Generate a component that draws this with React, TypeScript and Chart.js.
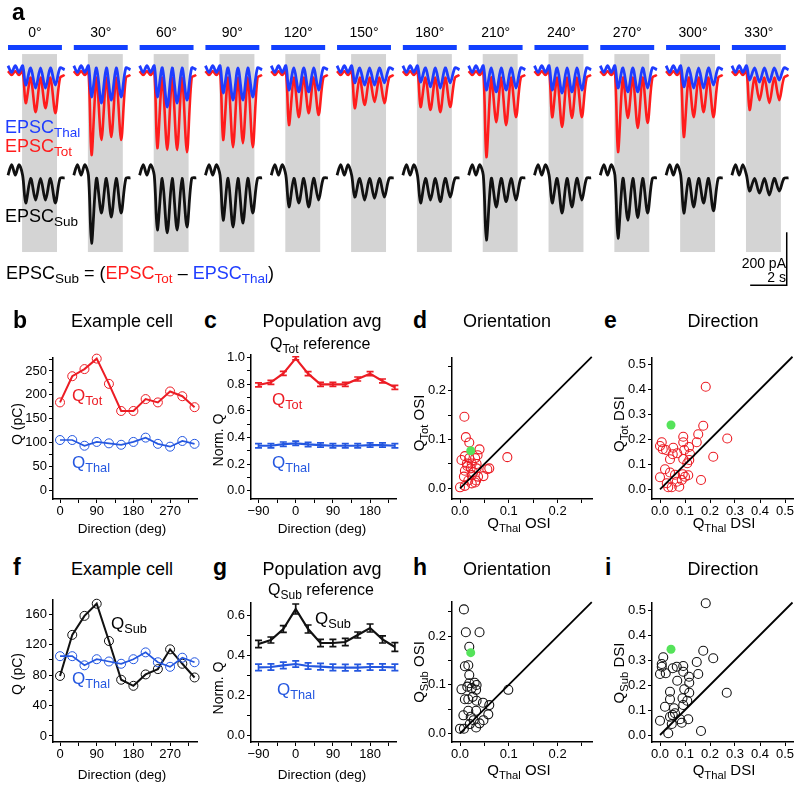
import React, { useEffect, useRef } from 'react';
import { Chart, registerables } from 'chart.js';

Chart.register(...registerables);

const FONT = '"Liberation Sans", Arial, Helvetica, sans-serif';
Chart.defaults.font.family = FONT;

const RED = '#ec1c24';
const BLUE = '#2457e0';
const TRACE_RED = '#ff1c1c';
const TRACE_BLUE = '#1f3dff';
const STIM_BLUE = '#1240ff';
const GRAY = '#d4d4d4';
const GREEN = '#55e35a';

// ================= DATA =================
// Panel a: stimulus directions and trough amplitudes (pA) of each EPSC cycle
const DIRECTIONS = [0, 30, 60, 90, 120, 150, 180, 210, 240, 270, 300, 330];
const THAL_TROUGHS = [
  [-68, -79, -79, -68],
  [-113, -136, -125, -113],
  [-113, -151, -136, -125],
  [-98, -125, -125, -113],
  [-87, -94, -94, -87],
  [-60, -68, -68, -60],
  [-57, -75, -79, -60],
  [-87, -94, -87, -79],
  [-87, -98, -94, -87],
  [-79, -94, -94, -79],
  [-75, -79, -79, -68],
  [-49, -57, -57, -49],
];
const TOT_TROUGHS = [
  [-136, -170, -155, -174],
  [-332, -275, -264, -275],
  [-306, -313, -313, -321],
  [-275, -302, -287, -302],
  [-219, -189, -174, -181],
  [-155, -143, -132, -136],
  [-151, -162, -170, -151],
  [-340, -208, -219, -189],
  [-189, -226, -192, -189],
  [-321, -192, -230, -211],
  [-264, -189, -170, -189],
  [-162, -125, -136, -125],
];
const SUB_TROUGHS = [
  [-105, -94, -94, -105],
  [-257, -143, -158, -143],
  [-207, -218, -207, -196],
  [-170, -196, -181, -143],
  [-120, -105, -120, -94],
  [-83, -94, -87, -83],
  [-105, -94, -100, -83],
  [-245, -120, -100, -94],
  [-105, -143, -120, -94],
  [-238, -170, -160, -143],
  [-143, -120, -105, -135],
  [-60, -68, -75, -60],
];
// sample times (s, from sweep start) and resting / inter-cycle levels (pA)
const TRACE_T = [0, 0.2, 0.4, 0.6, 0.8, 0.97, 1.24, 1.51, 1.78, 2.05, 2.32, 2.59, 2.85, 3.1];
const THAL_LEVELS = { rest: 5, pre: -20, peak: -3, post: -10 };
const TOT_LEVELS = { rest: -15, pre: -30, peak: -40, post: -30 };
const SUB_LEVELS = { rest: 0, pre: 40, peak: -12, post: -10 };
const SCALE_BAR_PA = 200;
const SCALE_BAR_S = 2;

// Panels b & f: example cell
const CELL_DIR = [0, 30, 60, 90, 120, 150, 180, 210, 240, 270, 300, 330];
const CELL_TOT_Q = [184, 239, 254, 276, 223, 166, 166, 191, 184, 207, 197, 174];
const CELL_THAL_Q = [105, 105, 93, 101, 98, 95, 101, 110, 97, 91, 103, 97];
const CELL_SUB_Q = [79, 133, 158, 174, 125, 74, 66, 81, 88, 114, 95, 77];

// Panels c & g: population average
const POP_DIR = [-90, -60, -30, 0, 30, 60, 90, 120, 150, 180, 210, 240];
const POP_TOT = [0.795, 0.815, 0.882, 0.995, 0.88, 0.8, 0.8, 0.8, 0.84, 0.88, 0.825, 0.777];
const POP_TOT_SEM = [0.015, 0.015, 0.015, 0.012, 0.015, 0.015, 0.015, 0.015, 0.015, 0.015, 0.015, 0.015];
const POP_THAL_C = [0.338, 0.338, 0.35, 0.356, 0.348, 0.343, 0.338, 0.338, 0.338, 0.343, 0.343, 0.338];
const POP_THAL_C_SEM = [0.016, 0.016, 0.016, 0.016, 0.016, 0.016, 0.016, 0.016, 0.016, 0.016, 0.016, 0.016];
const POP_SUB = [0.455, 0.475, 0.53, 0.63, 0.53, 0.46, 0.46, 0.465, 0.5, 0.535, 0.478, 0.44];
const POP_SUB_SEM = [0.018, 0.015, 0.017, 0.025, 0.02, 0.018, 0.018, 0.018, 0.015, 0.02, 0.018, 0.022];
const POP_THAL_G = [0.338, 0.34, 0.348, 0.355, 0.345, 0.342, 0.338, 0.337, 0.337, 0.34, 0.34, 0.338];
const POP_THAL_G_SEM = [0.016, 0.016, 0.016, 0.016, 0.016, 0.016, 0.016, 0.016, 0.016, 0.016, 0.016, 0.016];

// Panel d: OSI Thal vs Tot
const D_X = [0.009, 0.012, 0.019, 0.04, 0.01, 0.003, 0.019, 0.031, 0.036, 0.014, 0.024, 0.034, 0.01, 0.022, 0.034, 0.008, 0.024, 0.037, 0.048, 0.056, 0.06, 0.097, 0.0, 0.01, 0.024, 0.031, 0.017, 0.033, 0.015, 0.027];
const D_Y = [0.147, 0.105, 0.094, 0.08, 0.066, 0.058, 0.062, 0.062, 0.068, 0.051, 0.051, 0.05, 0.036, 0.041, 0.041, 0.024, 0.027, 0.024, 0.025, 0.039, 0.041, 0.064, 0.002, 0.005, 0.01, 0.012, 0.016, 0.016, 0.046, 0.033];
const D_EXAMPLE = [0.022, 0.077];
// Panel e: DSI Thal vs Tot
const E_X = [0.183, 0.173, 0.153, 0.269, 0.093, 0.147, 0.093, 0.007, 0.0, 0.011, 0.024, 0.053, 0.116, 0.097, 0.069, 0.12, 0.051, 0.093, 0.04, 0.117, 0.213, 0.109, 0.02, 0.04, 0.06, 0.091, 0.113, 0.0, 0.087, 0.164, 0.067, 0.033, 0.047, 0.077, 0.027, 0.1];
const E_Y = [0.41, 0.254, 0.22, 0.203, 0.21, 0.188, 0.188, 0.188, 0.173, 0.16, 0.157, 0.166, 0.169, 0.157, 0.144, 0.141, 0.14, 0.121, 0.12, 0.117, 0.13, 0.104, 0.08, 0.067, 0.058, 0.06, 0.056, 0.048, 0.037, 0.037, 0.03, 0.008, 0.008, 0.01, 0.024, 0.05];
const E_EXAMPLE = [0.044, 0.257];
// Panel h: OSI Thal vs Sub
const H_X = [0.008, 0.012, 0.04, 0.019, 0.01, 0.017, 0.019, 0.019, 0.03, 0.034, 0.003, 0.015, 0.024, 0.033, 0.099, 0.01, 0.017, 0.026, 0.034, 0.047, 0.06, 0.017, 0.033, 0.007, 0.022, 0.058, 0.048, 0.028, 0.0, 0.008, 0.033, 0.02, 0.04];
const H_Y = [0.255, 0.208, 0.208, 0.178, 0.138, 0.14, 0.12, 0.103, 0.104, 0.0995, 0.0905, 0.096, 0.093, 0.0895, 0.0895, 0.07, 0.07, 0.075, 0.067, 0.063, 0.058, 0.0465, 0.0465, 0.037, 0.034, 0.039, 0.027, 0.027, 0.0095, 0.0095, 0.012, 0.019, 0.0205];
const H_EXAMPLE = [0.022, 0.166];
// Panel i: DSI Thal vs Sub
const I_X = [0.183, 0.173, 0.213, 0.013, 0.007, 0.007, 0.147, 0.093, 0.067, 0.051, 0.0, 0.023, 0.093, 0.153, 0.116, 0.069, 0.117, 0.097, 0.117, 0.04, 0.04, 0.267, 0.09, 0.109, 0.093, 0.02, 0.056, 0.06, 0.04, 0.08, 0.113, 0.0, 0.087, 0.047, 0.033, 0.164, 0.051];
const I_Y = [0.527, 0.337, 0.307, 0.311, 0.284, 0.273, 0.292, 0.276, 0.273, 0.267, 0.244, 0.247, 0.253, 0.244, 0.233, 0.217, 0.209, 0.183, 0.169, 0.173, 0.143, 0.169, 0.147, 0.137, 0.12, 0.113, 0.107, 0.087, 0.073, 0.063, 0.063, 0.057, 0.049, 0.044, 0.007, 0.016, 0.08];
const I_EXAMPLE = [0.044, 0.343];

// Unity lines
const OSI_UNITY = [0, 0.27];
const DSI_UNITY = [0, 0.53];

// Tick values and labels
const CELL_X_TICKS = [0, 45, 90, 135, 180, 225, 270, 315];
const CELL_X_LABELS = [0, 90, 180, 270];
const POP_X_TICKS = [-90, -45, 0, 45, 90, 135, 180, 225];
const POP_X_LABELS = [-90, 0, 90, 180];
const B_Y_TICKS = [0, 25, 50, 75, 100, 125, 150, 175, 200, 225, 250, 275];
const B_Y_LABELS = [0, 50, 100, 150, 200, 250];
const C_Y_TICKS = [0, 0.1, 0.2, 0.3, 0.4, 0.5, 0.6, 0.7, 0.8, 0.9, 1.0];
const C_Y_LABELS = [0, 0.2, 0.4, 0.6, 0.8, 1.0];
const F_Y_TICKS = [0, 20, 40, 60, 80, 100, 120, 140, 160];
const F_Y_LABELS = [0, 40, 80, 120, 160];
const G_Y_TICKS = [0, 0.1, 0.2, 0.3, 0.4, 0.5, 0.6];
const G_Y_LABELS = [0, 0.2, 0.4, 0.6];
const OSI_TICKS = [0, 0.05, 0.1, 0.15, 0.2, 0.25];
const OSI_LABELS = [0, 0.1, 0.2];
const DSI_TICKS = [0, 0.1, 0.2, 0.3, 0.4, 0.5];
const DSI_LABELS = [0, 0.1, 0.2, 0.3, 0.4, 0.5];

// ================= PANEL a LAYOUT =================
const SEG_PITCH = 3.6; // s between sweeps
const STIM_BAR = [0, 2.95];
const GRAY_WIN = [0.77, 2.68];
const A_PX_PER_S = 18.28;
const A_XMIN = -8 / A_PX_PER_S;
const A_XMAX = A_XMIN + 800 / A_PX_PER_S;
const A_YMAX = 253;
const A_YMIN = -879;
const SUB_OFFSET = -408;
const STIM_Y = 73.8;
const GRAY_TOP = 49;
const GRAY_BOTTOM = -698;
const SB_X = 42.6;
const SB_Y = -823;
const aPx = (t: number) => (t - A_XMIN) * A_PX_PER_S;

function buildTrace(troughs: number[][], lv: any, offset: number) {
  const pts: any[] = [];
  troughs.forEach((tr, i) => {
    const t0 = i * SEG_PITCH;
    const vals = [lv.rest, lv.pre, lv.rest, lv.pre, lv.rest, tr[0], lv.peak, tr[1], lv.peak, tr[2], lv.peak, tr[3], lv.peak, lv.post];
    TRACE_T.forEach((t, k) => pts.push({ x: t0 + t, y: vals[k] + offset }));
    pts.push({ x: t0 + 3.3, y: null });
  });
  return pts;
}

const grayBoxPlugin = {
  id: 'grayBoxes',
  beforeDatasetsDraw(chart: any) {
    const { ctx } = chart;
    const xs = chart.scales.x;
    const ys = chart.scales.y;
    ctx.save();
    ctx.fillStyle = GRAY;
    DIRECTIONS.forEach((_, i) => {
      const x0 = xs.getPixelForValue(i * SEG_PITCH + GRAY_WIN[0]);
      const x1 = xs.getPixelForValue(i * SEG_PITCH + GRAY_WIN[1]);
      const y0 = ys.getPixelForValue(GRAY_TOP);
      const y1 = ys.getPixelForValue(GRAY_BOTTOM);
      ctx.fillRect(x0, y0, x1 - x0, y1 - y0);
    });
    ctx.restore();
  },
};

function TracesPanel() {
  const ref = useRef<HTMLCanvasElement>(null);
  useEffect(() => {
    const stim: any[] = [];
    DIRECTIONS.forEach((_, i) => {
      stim.push({ x: i * SEG_PITCH + STIM_BAR[0], y: STIM_Y });
      stim.push({ x: i * SEG_PITCH + STIM_BAR[1], y: STIM_Y });
      stim.push({ x: i * SEG_PITCH + STIM_BAR[1] + 0.1, y: null });
    });
    const sbar = [
      { x: SB_X - SCALE_BAR_S, y: SB_Y },
      { x: SB_X, y: SB_Y },
      { x: SB_X, y: SB_Y + SCALE_BAR_PA },
    ];
    const chart = new Chart(ref.current as HTMLCanvasElement, {
      type: 'line',
      data: {
        datasets: [
          { data: buildTrace(THAL_TROUGHS, THAL_LEVELS, 0), borderColor: TRACE_BLUE, borderWidth: 2.8, pointRadius: 0, tension: 0.3, order: 2 } as any,
          { data: buildTrace(TOT_TROUGHS, TOT_LEVELS, 0), borderColor: TRACE_RED, borderWidth: 2.6, pointRadius: 0, tension: 0.3, order: 3 },
          { data: buildTrace(SUB_TROUGHS, SUB_LEVELS, SUB_OFFSET), borderColor: '#111', borderWidth: 2.8, pointRadius: 0, tension: 0.3, order: 2 },
          { data: stim, borderColor: STIM_BLUE, borderWidth: 5, pointRadius: 0, borderCapStyle: 'butt', order: 1 },
          { data: sbar, borderColor: '#000', borderWidth: 1.5, pointRadius: 0, order: 1 },
        ],
      },
      options: {
        responsive: false,
        animation: false,
        events: [],
        spanGaps: false,
        layout: { padding: 0 },
        plugins: { legend: { display: false }, tooltip: { enabled: false } },
        scales: {
          x: { type: 'linear', display: false, min: A_XMIN, max: A_XMAX },
          y: { type: 'linear', display: false, min: A_YMIN, max: A_YMAX },
        },
      } as any,
      plugins: [grayBoxPlugin],
    });
    return () => chart.destroy();
  }, []);
  return <canvas ref={ref} width={800} height={300} style={{ position: 'absolute', left: 0, top: 0, width: 800, height: 300 }} />;
}

// ================= LOWER PANELS =================
const YW = 40, PADL = 4, PADT = 14, PADR = 16, XH = 24, PADB = 2;

const errorBarPlugin = {
  id: 'errbars',
  afterDatasetsDraw(chart: any) {
    const { ctx } = chart;
    const xs = chart.scales.x;
    const ys = chart.scales.y;
    chart.data.datasets.forEach((ds: any) => {
      if (!ds.errorBars) return;
      ctx.save();
      ctx.strokeStyle = ds.borderColor;
      ctx.lineWidth = 1.7;
      ds.data.forEach((p: any, i: number) => {
        const e = ds.errorBars[i];
        const px = xs.getPixelForValue(p.x);
        const y1 = ys.getPixelForValue(p.y - e);
        const y2 = ys.getPixelForValue(p.y + e);
        ctx.beginPath();
        ctx.moveTo(px, y1); ctx.lineTo(px, y2);
        ctx.moveTo(px - 3.5, y1); ctx.lineTo(px + 3.5, y1);
        ctx.moveTo(px - 3.5, y2); ctx.lineTo(px + 3.5, y2);
        ctx.stroke();
      });
      ctx.restore();
    });
  },
};

const fmtDeg = (v: number) => (v < 0 ? '\u2212' + Math.abs(v) : String(v));
const fmtInt = (v: number) => String(Math.round(v));
const fmt1 = (v: number) => v.toFixed(1);

function axis(min: number, max: number, ticks: number[], labels: number[], fmt: (v: number) => string, horizontal: boolean) {
  return {
    type: 'linear',
    min,
    max,
    afterBuildTicks: (s: any) => { s.ticks = ticks.map((v) => ({ value: v })); },
    afterFit: (s: any) => { if (horizontal) s.height = XH; else s.width = YW; },
    ticks: {
      autoSkip: false,
      maxRotation: 0,
      minRotation: 0,
      padding: horizontal ? 1 : 2,
      color: '#000',
      font: { family: FONT, size: 13 },
      callback: (v: any) => (labels.some((l) => Math.abs(l - v) < 1e-9) ? fmt(v) : ''),
    },
    grid: { display: true, drawOnChartArea: false, drawTicks: true, tickLength: 4, color: '#000', lineWidth: 1 },
    border: { display: true, color: '#000', width: 1.5 },
  };
}

const pts = (xs: number[], ys: number[]) => xs.map((x, i) => ({ x, y: ys[i] }));

const cellLine = (ys: number[], color: string, w: number) => ({
  data: pts(CELL_DIR, ys), showLine: true, borderColor: color, borderWidth: w,
  pointRadius: 4.5, pointBorderWidth: 1, pointBorderColor: color, pointBackgroundColor: 'rgba(0,0,0,0)', clip: false,
});
const popLine = (ys: number[], sem: number[], color: string) => ({
  data: pts(POP_DIR, ys), showLine: true, borderColor: color, borderWidth: 2.2, pointRadius: 0, errorBars: sem, clip: false,
});
const scatterSets = (xs: number[], ys: number[], ex: number[], unity: number[], color: string) => [
  { data: pts(xs, ys), pointRadius: 4.5, pointBorderWidth: 1.1, pointBorderColor: color, pointBackgroundColor: 'rgba(0,0,0,0)', order: 3, clip: false },
  { data: [{ x: unity[0], y: unity[0] }, { x: unity[1], y: unity[1] }], showLine: true, borderColor: '#000', borderWidth: 1.8, pointRadius: 0, order: 2, clip: false },
  { data: [{ x: ex[0], y: ex[1] }], pointRadius: 4.5, pointBorderWidth: 0, pointBackgroundColor: GREEN, pointBorderColor: GREEN, order: 1, clip: false },
];

const CELL_XR = [-17.2, 336];
const POP_XR = [-108.2, 242.7];
const OSI_XR = [-0.0164, 0.2705];
const DSI_XR = [-0.032, 0.532];

const PANELS: any[] = [
  { area: { L: 53, R: 197, T: 358, B: 499 }, x: [CELL_XR, CELL_X_TICKS, CELL_X_LABELS, fmtInt], y: [[-18.9, 277.3], B_Y_TICKS, B_Y_LABELS, fmtInt],
    datasets: [cellLine(CELL_THAL_Q, BLUE, 1.7), cellLine(CELL_TOT_Q, RED, 2)] },
  { area: { L: 251, R: 396, T: 355, B: 499 }, x: [POP_XR, POP_X_TICKS, POP_X_LABELS, fmtDeg], y: [[-0.0624, 1.0203], C_Y_TICKS, C_Y_LABELS, fmt1],
    datasets: [popLine(POP_THAL_C, POP_THAL_C_SEM, BLUE), popLine(POP_TOT, POP_TOT_SEM, RED)] },
  { area: { L: 452, R: 592, T: 358, B: 499 }, x: [OSI_XR, OSI_TICKS, OSI_LABELS, fmt1], y: [[-0.022, 0.2676], OSI_TICKS, OSI_LABELS, fmt1],
    datasets: scatterSets(D_X, D_Y, D_EXAMPLE, OSI_UNITY, RED) },
  { area: { L: 652, R: 793, T: 358, B: 499 }, x: [DSI_XR, DSI_TICKS, DSI_LABELS, fmt1], y: [[-0.0388, 0.525], DSI_TICKS, DSI_LABELS, fmt1],
    datasets: scatterSets(E_X, E_Y, E_EXAMPLE, DSI_UNITY, RED) },
  { area: { L: 53, R: 197, T: 600, B: 742 }, x: [CELL_XR, CELL_X_TICKS, CELL_X_LABELS, fmtInt], y: [[-7.9, 178.9], F_Y_TICKS, F_Y_LABELS, fmtInt],
    datasets: [cellLine(CELL_THAL_Q, BLUE, 1.7), cellLine(CELL_SUB_Q, '#111', 2)] },
  { area: { L: 251, R: 396, T: 603, B: 742 }, x: [POP_XR, POP_X_TICKS, POP_X_LABELS, fmtDeg], y: [[-0.035, 0.66], G_Y_TICKS, G_Y_LABELS, fmt1],
    datasets: [popLine(POP_THAL_G, POP_THAL_G_SEM, BLUE), popLine(POP_SUB, POP_SUB_SEM, '#111')] },
  { area: { L: 452, R: 592, T: 602, B: 742 }, x: [OSI_XR, OSI_TICKS, OSI_LABELS, fmt1], y: [[-0.0179, 0.2702], OSI_TICKS, OSI_LABELS, fmt1],
    datasets: scatterSets(H_X, H_Y, H_EXAMPLE, OSI_UNITY, '#111') },
  { area: { L: 652, R: 793, T: 603, B: 742 }, x: [DSI_XR, DSI_TICKS, DSI_LABELS, fmt1], y: [[-0.028, 0.528], DSI_TICKS, DSI_LABELS, fmt1],
    datasets: scatterSets(I_X, I_Y, I_EXAMPLE, DSI_UNITY, '#111') },
];

function ChartPanel({ spec }: any) {
  const ref = useRef<HTMLCanvasElement>(null);
  const { L, R, T, B } = spec.area;
  const w = YW + PADL + (R - L) + PADR;
  const h = PADT + (B - T) + XH + PADB;
  useEffect(() => {
    const [xr, xt, xl, xf] = spec.x;
    const [yr, yt, yl, yf] = spec.y;
    const chart = new Chart(ref.current as HTMLCanvasElement, {
      type: 'scatter',
      data: { datasets: spec.datasets },
      options: {
        responsive: false,
        animation: false,
        events: [],
        layout: { padding: { left: PADL, right: PADR, top: PADT, bottom: PADB } },
        plugins: { legend: { display: false }, tooltip: { enabled: false } },
        scales: {
          x: axis(xr[0], xr[1], xt, xl, xf, true),
          y: axis(yr[0], yr[1], yt, yl, yf, false),
        },
      } as any,
      plugins: [errorBarPlugin],
    });
    return () => chart.destroy();
  }, []);
  return <canvas ref={ref} width={w} height={h} style={{ position: 'absolute', left: L - YW - PADL, top: T - PADT, width: w, height: h }} />;
}

// ================= TEXT =================
function Txt({ x, y, s, c = '#000', b = false, a = 'l', children }: any) {
  const tx = a === 'c' ? 'translateX(-50%)' : a === 'r' ? 'translateX(-100%)' : 'none';
  return (
    <div style={{ position: 'absolute', left: x, top: y - 0.8465 * s, fontSize: s, lineHeight: 1, color: c, fontWeight: b ? 700 : 400, whiteSpace: 'nowrap', transform: tx, fontFamily: FONT }}>
      {children}
    </div>
  );
}
function VTxt({ x, y, s, children }: any) {
  return (
    <div style={{ position: 'absolute', left: x, top: y, fontSize: s, lineHeight: 1, whiteSpace: 'nowrap', transform: 'translate(-50%,-50%) rotate(-90deg)', fontFamily: FONT, color: '#000' }}>
      {children}
    </div>
  );
}
const Sb = ({ children, c }: any) => (
  <span style={{ fontSize: '0.75em', position: 'relative', top: '0.33em', color: c }}>{children}</span>
);

export default function App() {
  return (
    <div style={{ position: 'absolute', left: 0, top: 0, width: 800, height: 790, background: '#fff', overflow: 'hidden', fontFamily: FONT }}>
      <TracesPanel />
      {PANELS.map((p, i) => <ChartPanel key={i} spec={p} />)}

      {/* panel a text */}
      <Txt x={12} y={20} s={23} b>a</Txt>
      {DIRECTIONS.map((d, i) => (
        <Txt key={d} x={aPx(i * SEG_PITCH + (STIM_BAR[0] + STIM_BAR[1]) / 2)} y={37} s={14} a="c">{d}°</Txt>
      ))}
      <Txt x={5} y={133} s={18} c={TRACE_BLUE}>EPSC<Sb>Thal</Sb></Txt>
      <Txt x={5} y={152} s={18} c={TRACE_RED}>EPSC<Sb>Tot</Sb></Txt>
      <Txt x={5} y={222} s={18}>EPSC<Sb>Sub</Sb></Txt>
      <Txt x={6} y={279} s={18}>
        EPSC<Sb>Sub</Sb> = (<span style={{ color: TRACE_RED }}>EPSC<Sb>Tot</Sb></span> – <span style={{ color: TRACE_BLUE }}>EPSC<Sb>Thal</Sb></span>)
      </Txt>
      <Txt x={786} y={268} s={14} a="r">200 pA</Txt>
      <Txt x={786} y={282} s={14} a="r">2 s</Txt>

      {/* row 1 */}
      <Txt x={13} y={328} s={23} b>b</Txt>
      <Txt x={204} y={328} s={23} b>c</Txt>
      <Txt x={413} y={328} s={23} b>d</Txt>
      <Txt x={604} y={328} s={23} b>e</Txt>
      <Txt x={122} y={327} s={18} a="c">Example cell</Txt>
      <Txt x={322} y={327} s={18} a="c">Population avg</Txt>
      <Txt x={507} y={327} s={18} a="c">Orientation</Txt>
      <Txt x={723} y={327} s={18} a="c">Direction</Txt>
      <Txt x={270} y={350} s={16}>Q<Sb>Tot</Sb> reference</Txt>
      <Txt x={72} y={401} s={17} c={RED}>Q<Sb>Tot</Sb></Txt>
      <Txt x={72} y={468} s={17} c={BLUE}>Q<Sb>Thal</Sb></Txt>
      <Txt x={272} y={405} s={17} c={RED}>Q<Sb>Tot</Sb></Txt>
      <Txt x={272} y={468} s={17} c={BLUE}>Q<Sb>Thal</Sb></Txt>
      <VTxt x={17} y={424} s={14}>Q (pC)</VTxt>
      <VTxt x={218} y={440} s={14}>Norm. Q</VTxt>
      <VTxt x={419} y={423} s={15}>Q<Sb>Tot</Sb> OSI</VTxt>
      <VTxt x={619} y={424} s={15}>Q<Sb>Tot</Sb> DSI</VTxt>
      <Txt x={122} y={533} s={13.5} a="c">Direction (deg)</Txt>
      <Txt x={322} y={533} s={13.5} a="c">Direction (deg)</Txt>
      <Txt x={519} y={528} s={15} a="c">Q<Sb>Thal</Sb> OSI</Txt>
      <Txt x={724} y={528} s={15} a="c">Q<Sb>Thal</Sb> DSI</Txt>

      {/* row 2 */}
      <Txt x={13} y={575} s={23} b>f</Txt>
      <Txt x={213} y={575} s={23} b>g</Txt>
      <Txt x={413} y={575} s={23} b>h</Txt>
      <Txt x={605} y={575} s={23} b>i</Txt>
      <Txt x={122} y={575} s={18} a="c">Example cell</Txt>
      <Txt x={322} y={575} s={18} a="c">Population avg</Txt>
      <Txt x={507} y={575} s={18} a="c">Orientation</Txt>
      <Txt x={723} y={575} s={18} a="c">Direction</Txt>
      <Txt x={268} y={596} s={16}>Q<Sb>Sub</Sb> reference</Txt>
      <Txt x={111} y={629} s={17}>Q<Sb>Sub</Sb></Txt>
      <Txt x={72} y={684} s={17} c={BLUE}>Q<Sb>Thal</Sb></Txt>
      <Txt x={315} y={624} s={17}>Q<Sb>Sub</Sb></Txt>
      <Txt x={277} y={695} s={17} c={BLUE}>Q<Sb>Thal</Sb></Txt>
      <VTxt x={17} y={674} s={14}>Q (pC)</VTxt>
      <VTxt x={218} y={688} s={14}>Norm. Q</VTxt>
      <VTxt x={419} y={672} s={15}>Q<Sb>Sub</Sb> OSI</VTxt>
      <VTxt x={619} y={673} s={15}>Q<Sb>Sub</Sb> DSI</VTxt>
      <Txt x={122} y={779} s={13.5} a="c">Direction (deg)</Txt>
      <Txt x={322} y={779} s={13.5} a="c">Direction (deg)</Txt>
      <Txt x={519} y={775} s={15} a="c">Q<Sb>Thal</Sb> OSI</Txt>
      <Txt x={724} y={775} s={15} a="c">Q<Sb>Thal</Sb> DSI</Txt>
    </div>
  );
}
